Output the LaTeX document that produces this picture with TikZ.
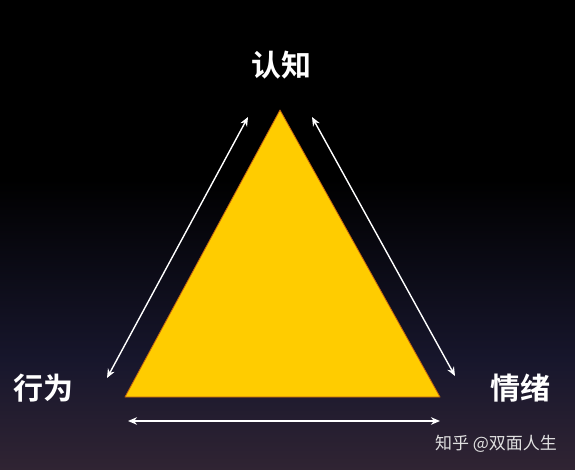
\documentclass[tikz,border=0pt]{standalone}
\usepackage{fontspec}
\newfontfamily\cjk{Noto Sans CJK SC}
\newfontfamily\cjkb{Noto Sans CJK SC Bold}
\usetikzlibrary{arrows.meta}
\definecolor{gold}{HTML}{FFCC00}
\definecolor{edge}{HTML}{C06010}
\definecolor{bgmid}{HTML}{17162C}
\definecolor{bgbot}{HTML}{302433}
\begin{document}
\begin{tikzpicture}[x=1pt,y=-1pt,
  lab/.style={text=white,font=\cjkb\fontsize{30}{30}\selectfont,inner sep=0pt},
  wm/.style={text=white!88!black,font=\cjk\fontsize{17}{17}\selectfont,inner sep=0pt},
  dbl/.style={draw=white,line width=1.4pt,{Stealth[length=9pt,width=7.5pt]}-{Stealth[length=9pt,width=7.5pt]}}]
\useasboundingbox (0,0) rectangle (575,470);
\fill[black] (0,0) rectangle (575,180);
\shade[top color=black,bottom color=bgmid] (0,179) rectangle (575,360);
\shade[top color=bgmid,bottom color=bgbot] (0,359) rectangle (575,470);
\coordinate (T) at (280,110);
\coordinate (L) at (125,397);
\coordinate (R) at (440,397);
\fill[gold,draw=edge,line width=0.8pt,line join=round] (T) -- (L) -- (R) -- cycle;
\node[lab] (cog) at (281,65) {认知};
\node[lab] (beh) at (43,388) {行为};
\node[lab] (emo) at (520,388) {情绪};
\node[wm] (mark) at (496,444) {知乎 @双面人生};
\coordinate (a1) at (248,117);
\coordinate (a2) at (107,378);
\coordinate (b1) at (312,117);
\coordinate (b2) at (455,376);
\coordinate (c1) at (128,421);
\coordinate (c2) at (440,421);
\draw[dbl] (a1) -- (a2);
\draw[dbl] (b1) -- (b2);
\draw[dbl] (c1) -- (c2);
\end{tikzpicture}
\end{document}
